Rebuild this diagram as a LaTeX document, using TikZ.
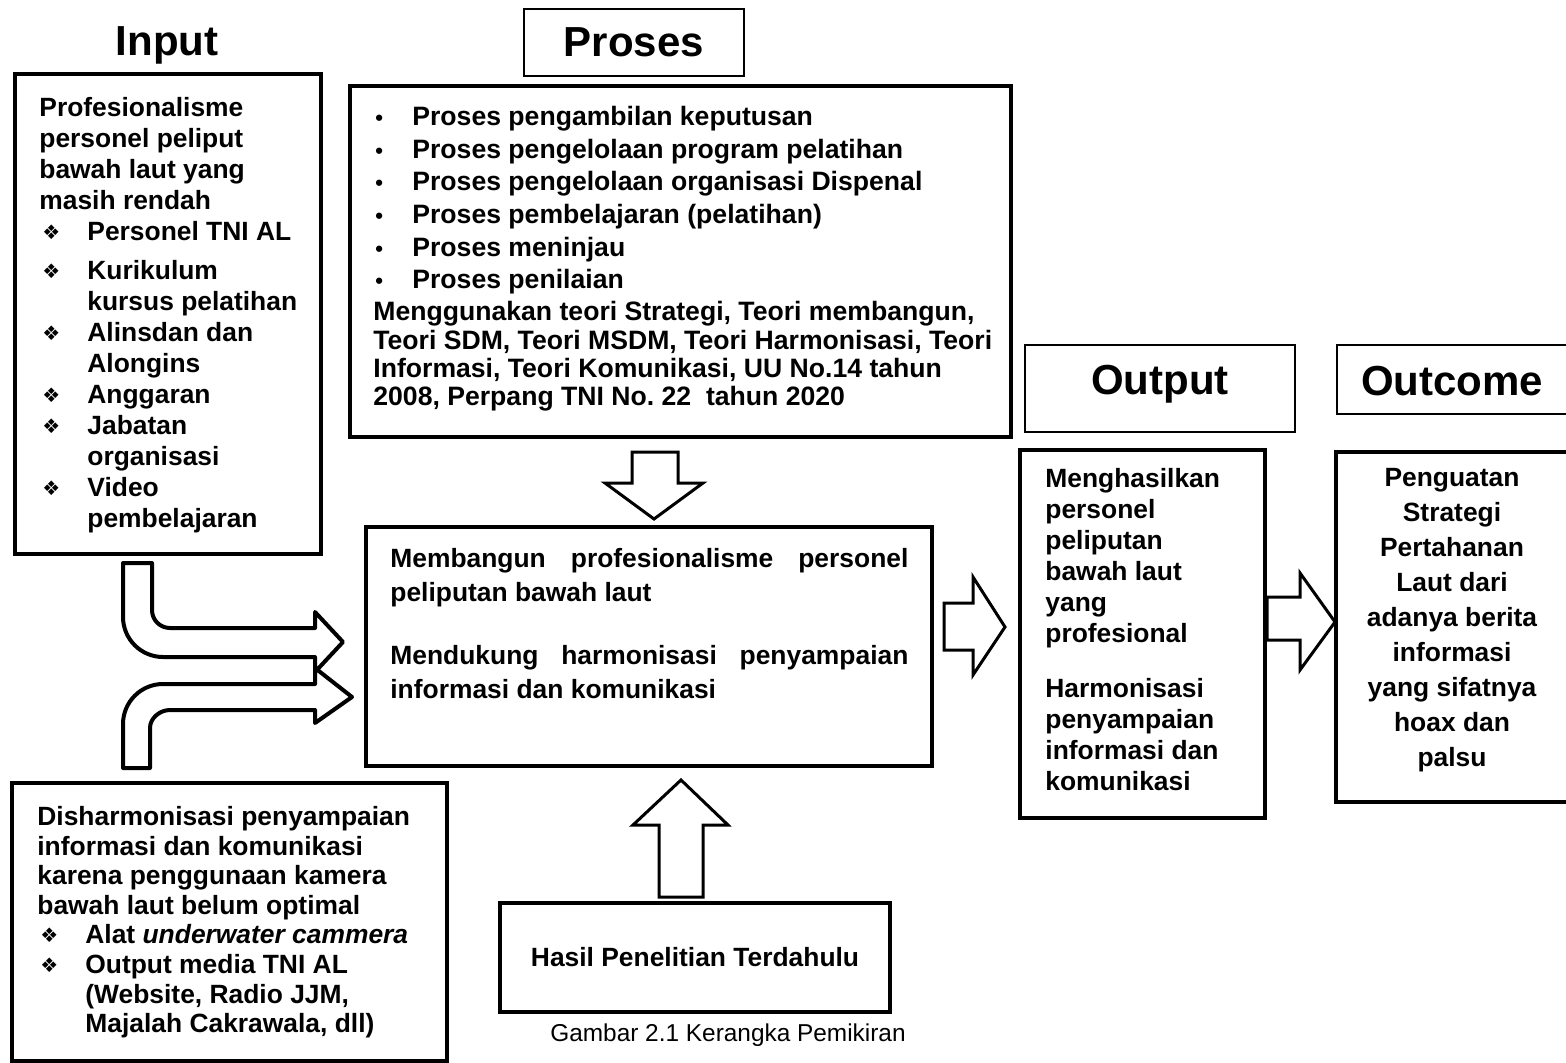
\documentclass[tikz,border=0pt]{standalone}
\usepackage{fontspec}
\setmainfont{Liberation Sans}
\newfontfamily\symfont{DejaVu Sans}
\setlength\parindent{0pt}
\frenchspacing
\newcommand\dmd{\makebox[24pt][l]{\hspace{1.5pt}\raisebox{0.5pt}{\symfont\fontsize{10}{10}\selectfont ❖}}}
\newcommand\indbox{\makebox[24pt]{}}
\newcommand\pbul{\makebox[19.5pt][l]{\hspace{1pt}{\fontsize{11}{11}\selectfont\textbullet}}}

\begin{document}
\begin{tikzpicture}[x=0.5pt, y=-0.5pt,
    box/.style = {draw, line width=2pt, inner sep=0pt, outer sep=0pt, anchor=north west},
    titlebox/.style = {draw, line width=1pt, inner sep=0pt, outer sep=0pt, anchor=north west},
    txt/.style = {inner sep=0pt, anchor=north west, align=left, font=\fontsize{13.2}{15.5}\selectfont\bfseries},
    head/.style = {inner sep=0pt, font=\fontsize{21}{21}\selectfont\bfseries},
    fatarrow/.style = {draw, line width=1.5pt, fill=white, line join=miter},
    bentarrow/.style = {draw, line width=2pt, fill=white, line join=round}]

    \useasboundingbox (0,0) rectangle (1566,1063);

    \node[head] (inputtitle) at (167,45) {Input};
    \node[titlebox, minimum width=110pt, minimum height=33.5pt] (prosestbox) at (524,9) {};
    \node[head] (prosestitle) at (prosestbox.center) {Proses};
    \node[titlebox, minimum width=135pt, minimum height=43.5pt] (outputtbox) at (1025,345) {};
    \node[head] (outputtitle) at (1160,384) {Output};
    \node[titlebox, minimum width=119pt, minimum height=34.5pt] (outcometbox) at (1337,345) {};
    \node[head] (outcometitle) at (1452,381) {Outcome};

    \node[box, minimum width=153pt, minimum height=240pt] (input) at (15,74) {};
    \node[box, minimum width=330.5pt, minimum height=175.5pt] (proses) at (350,86) {};
    \node[box, minimum width=283pt, minimum height=119.5pt] (central) at (366,527) {};
    \node[box, minimum width=122.5pt, minimum height=184pt] (output) at (1020,450) {};
    \node[box, minimum width=119.5pt, minimum height=175pt] (outcome) at (1336,452) {};
    \node[box, minimum width=217.5pt, minimum height=139pt] (disharmoni) at (12,783) {};
    \node[box, minimum width=195pt, minimum height=54.5pt] (hasil) at (500,903) {};

    \node[txt] (inputtxt) at ([xshift=12pt, yshift=-11.5pt]input.north west) {%
        Profesionalisme\\
        personel peliput\\
        bawah laut yang\\
        masih rendah\\
        \dmd Personel TNI AL\\[4pt]
        \dmd Kurikulum\\
        \indbox kursus pelatihan\\
        \dmd Alinsdan dan\\
        \indbox Alongins\\
        \dmd Anggaran\\
        \dmd Jabatan\\
        \indbox organisasi\\
        \dmd Video\\
        \indbox pembelajaran};

    \node[txt, font=\fontsize{13.3}{14.2}\selectfont\bfseries] (prosestxt) at ([xshift=11.5pt, yshift=-10pt]proses.north west) {%
        \pbul Proses pengambilan keputusan\\[2.1pt]
        \pbul Proses pengelolaan program pelatihan\\[2.1pt]
        \pbul Proses pengelolaan organisasi Dispenal\\[2.1pt]
        \pbul Proses pembelajaran (pelatihan)\\[2.1pt]
        \pbul Proses meninjau\\[2.1pt]
        \pbul Proses penilaian\\[1.8pt]
        Menggunakan teori Strategi, Teori membangun,\\
        Teori SDM, Teori MSDM, Teori Harmonisasi, Teori\\
        Informasi, Teori Komunikasi, UU No.14 tahun\\
        2008, Perpang TNI No. 22\ \ tahun 2020};

    \node[txt, align=justify, text width=259pt, font=\fontsize{13.2}{17}\selectfont\bfseries] (centraltxt) at ([xshift=12pt, yshift=-10.5pt]central.north west) {%
        Membangun profesionalisme personel peliputan bawah laut\par\vspace{14.5pt}
        Mendukung harmonisasi penyampaian informasi dan komunikasi\par};

    \node[txt] (outputtxt) at ([xshift=12.5pt, yshift=-9pt]output.north west) {%
        Menghasilkan\\
        personel\\
        peliputan\\
        bawah laut\\
        yang\\
        profesional\\[12pt]
        Harmonisasi\\
        penyampaian\\
        informasi dan\\
        komunikasi};

    \node[txt, anchor=north, align=center, font=\fontsize{13.2}{17.5}\selectfont\bfseries] (outcometxt) at (1452,468) {%
        Penguatan\\
        Strategi\\
        Pertahanan\\
        Laut dari\\
        adanya berita\\
        informasi\\
        yang sifatnya\\
        hoax dan\\
        palsu};

    \node[txt, font=\fontsize{13.2}{14.8}\selectfont\bfseries] (disharmonitxt) at ([xshift=12.5pt, yshift=-11.5pt]disharmoni.north west) {%
        Disharmonisasi penyampaian\\
        informasi dan komunikasi\\
        karena penggunaan kamera\\
        bawah laut belum optimal\\
        \dmd Alat \textit{underwater cammera}\\
        \dmd Output media TNI AL\\
        \indbox (Website, Radio JJM,\\
        \indbox Majalah Cakrawala, dll)};

    \node[inner sep=0pt, font=\fontsize{13.2}{15.5}\selectfont\bfseries] (hasiltxt) at (hasil.center) {Hasil Penelitian Terdahulu};

    \node[inner sep=0pt, font=\fontsize{12.2}{14}\selectfont] (caption) at (728,1035) {Gambar 2.1 Kerangka Pemikiran};

    \draw[fatarrow] (632,452) -- (678,452) -- (678,483) -- (703,483) -- (654,519) -- (605,483) -- (632,483) -- cycle;
    \draw[fatarrow] (659,897) -- (659,825) -- (633,825) -- (681,780) -- (728,825) -- (703,825) -- (703,897) -- cycle;
    \draw[fatarrow] (944,603) -- (973,603) -- (973,577) -- (1005,627) -- (973,675) -- (973,650) -- (944,650) -- cycle;
    \draw[fatarrow] (1267,597) -- (1300,597) -- (1300,573) -- (1335,622) -- (1300,670) -- (1300,640) -- (1267,640) -- cycle;

    \draw[bentarrow] (123,563) -- (152,563) -- (152,610) .. controls (152,620) and (160,628) .. (170,628) -- (315,628) -- (315,612) -- (343,642) -- (315,672) -- (315,657) -- (163,657) .. controls (141,657) and (123,639) .. (123,617) -- cycle;
    \draw[bentarrow] (123,768) -- (123,724) .. controls (123,702) and (141,684) .. (163,684) -- (315,684) -- (315,668) -- (352,697) -- (315,723) -- (315,710) -- (170,710) .. controls (160,710) and (150,718) .. (150,728) -- (150,768) -- cycle;

\end{tikzpicture}
\end{document}
